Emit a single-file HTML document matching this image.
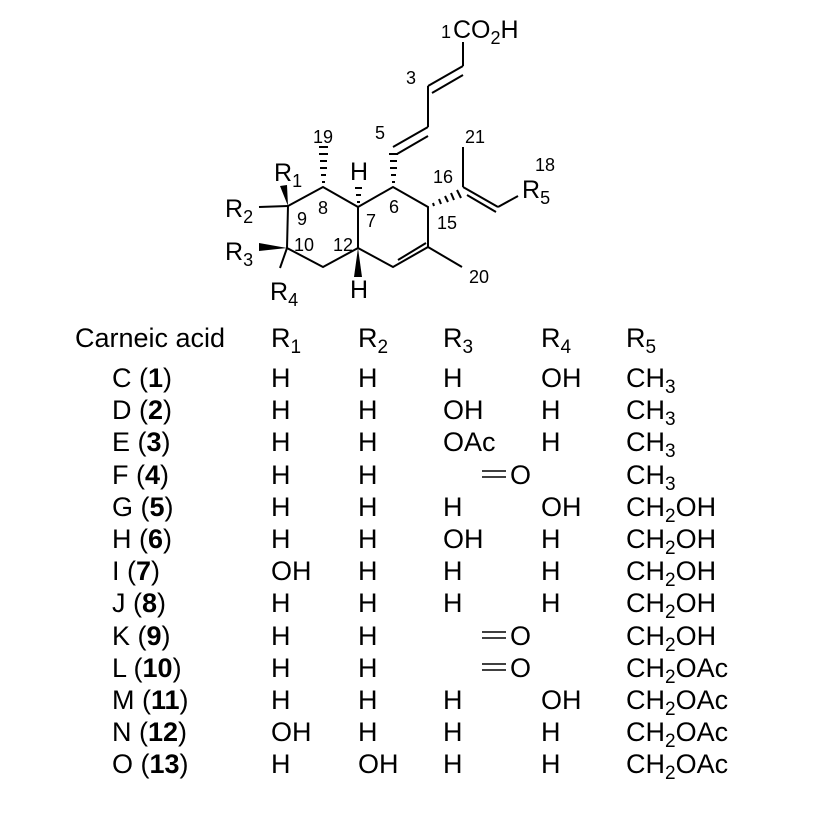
<!DOCTYPE html>
<html><head><meta charset="utf-8"><style>
html,body{margin:0;padding:0;background:#fff;}
svg{display:block;}
text{font-family:"Liberation Sans",Arial,sans-serif;fill:#000;}
.a{font-size:25px;}
.n{font-size:18px;}
.t{font-size:27px;}
.b{font-weight:bold;}
</style></head><body>
<svg width="831" height="815" viewBox="0 0 831 815" xmlns="http://www.w3.org/2000/svg">
<g stroke="#000" stroke-width="2" fill="none" stroke-linecap="butt">
<polyline points="288,206 323,187 358,207 358,248 323,267 287,248 288,206"/>
<polyline points="358,207 393,187 428,207 428,247 393,267 358,248"/>
<line x1="398" y1="260" x2="426" y2="243"/>
<line x1="428" y1="247" x2="462" y2="267"/>
<line x1="259" y1="207" x2="288" y2="206"/>
<line x1="287" y1="248" x2="280" y2="268"/>
<line x1="393" y1="147" x2="428" y2="127"/>
<line x1="397" y1="154" x2="428" y2="136"/>
<line x1="428" y1="127" x2="428" y2="86"/>
<line x1="428" y1="86" x2="463" y2="66"/>
<line x1="432" y1="93" x2="463" y2="75"/>
<line x1="463" y1="66" x2="463" y2="42"/>
<line x1="463" y1="187" x2="463" y2="147"/>
<line x1="463" y1="187" x2="498" y2="207"/>
<line x1="467" y1="195" x2="496" y2="212"/>
<line x1="498" y1="207" x2="518" y2="196"/>
</g>
<g stroke="#000" stroke-width="2">
<line x1="322" y1="182" x2="325" y2="182"/><line x1="321" y1="175" x2="326" y2="175"/><line x1="320" y1="168" x2="327" y2="168"/><line x1="320" y1="161" x2="327" y2="161"/><line x1="319" y1="154" x2="328" y2="154"/><line x1="319" y1="147" x2="328" y2="147"/>
<line x1="357" y1="202" x2="360" y2="202"/><line x1="356" y1="195" x2="361" y2="195"/><line x1="355" y1="188" x2="362" y2="188"/>
<line x1="392" y1="182" x2="395" y2="182"/><line x1="391" y1="175" x2="396" y2="175"/><line x1="390" y1="168" x2="397" y2="168"/><line x1="390" y1="161" x2="397" y2="161"/><line x1="389" y1="154" x2="398" y2="154"/>
<line x1="433" y1="203" x2="434" y2="206"/><line x1="439" y1="199" x2="441" y2="204"/><line x1="445" y1="196" x2="448" y2="202"/><line x1="451" y1="193" x2="454" y2="200"/><line x1="457" y1="190" x2="461" y2="198"/>
</g>
<g fill="#000">
<polygon points="288,206 280,186 287,185"/>
<polygon points="287,248 259,243 259,251"/>
<polygon points="358,248 354,277 362,277"/>
</g>
<text class="a" x="274" y="181">R<tspan font-size="18" dy="6">1</tspan></text>
<text class="a" x="225" y="217">R<tspan font-size="18" dy="6">2</tspan></text>
<text class="a" x="225" y="260">R<tspan font-size="18" dy="6">3</tspan></text>
<text class="a" x="270" y="300">R<tspan font-size="18" dy="6">4</tspan></text>
<text class="a" x="522" y="198">R<tspan font-size="18" dy="6">5</tspan></text>
<text class="a" x="350" y="180">H</text>
<text class="a" x="350" y="298">H</text>
<text class="a" x="453" y="38">CO<tspan font-size="18" dy="6">2</tspan><tspan dy="-6">H</tspan></text>
<text class="n" x="441" y="38">1</text>
<text class="n" x="406" y="84">3</text>
<text class="n" x="375" y="139">5</text>
<text class="n" x="313" y="143">19</text>
<text class="n" x="465" y="143">21</text>
<text class="n" x="535" y="171">18</text>
<text class="n" x="433" y="183">16</text>
<text class="n" x="389" y="213">6</text>
<text class="n" x="318" y="214">8</text>
<text class="n" x="297" y="225">9</text>
<text class="n" x="366" y="227">7</text>
<text class="n" x="437" y="229">15</text>
<text class="n" x="294" y="251">10</text>
<text class="n" x="333" y="251">12</text>
<text class="n" x="469" y="283">20</text>
<g>
<text class="t" x="75" y="347">Carneic acid</text>
<text class="t" x="271" y="347">R<tspan font-size="19" dy="6">1</tspan></text>
<text class="t" x="358" y="347">R<tspan font-size="19" dy="6">2</tspan></text>
<text class="t" x="443" y="347">R<tspan font-size="19" dy="6">3</tspan></text>
<text class="t" x="541" y="347">R<tspan font-size="19" dy="6">4</tspan></text>
<text class="t" x="626" y="347">R<tspan font-size="19" dy="6">5</tspan></text>
</g>
<g>
<text class="t" x="112" y="387">C (<tspan class="b">1</tspan>)</text>
<text class="t" x="112" y="419">D (<tspan class="b">2</tspan>)</text>
<text class="t" x="112" y="451">E (<tspan class="b">3</tspan>)</text>
<text class="t" x="112" y="484">F (<tspan class="b">4</tspan>)</text>
<text class="t" x="112" y="516">G (<tspan class="b">5</tspan>)</text>
<text class="t" x="112" y="548">H (<tspan class="b">6</tspan>)</text>
<text class="t" x="112" y="580">I (<tspan class="b">7</tspan>)</text>
<text class="t" x="112" y="612">J (<tspan class="b">8</tspan>)</text>
<text class="t" x="112" y="645">K (<tspan class="b">9</tspan>)</text>
<text class="t" x="112" y="677">L (<tspan class="b">10</tspan>)</text>
<text class="t" x="112" y="709">M (<tspan class="b">11</tspan>)</text>
<text class="t" x="112" y="741">N (<tspan class="b">12</tspan>)</text>
<text class="t" x="112" y="773">O (<tspan class="b">13</tspan>)</text>
<text class="t" x="271" y="387">H</text><text class="t" x="271" y="419">H</text><text class="t" x="271" y="451">H</text><text class="t" x="271" y="484">H</text><text class="t" x="271" y="516">H</text><text class="t" x="271" y="548">H</text><text class="t" x="271" y="580">OH</text><text class="t" x="271" y="612">H</text><text class="t" x="271" y="645">H</text><text class="t" x="271" y="677">H</text><text class="t" x="271" y="709">H</text><text class="t" x="271" y="741">OH</text><text class="t" x="271" y="773">H</text>
<text class="t" x="358" y="387">H</text><text class="t" x="358" y="419">H</text><text class="t" x="358" y="451">H</text><text class="t" x="358" y="484">H</text><text class="t" x="358" y="516">H</text><text class="t" x="358" y="548">H</text><text class="t" x="358" y="580">H</text><text class="t" x="358" y="612">H</text><text class="t" x="358" y="645">H</text><text class="t" x="358" y="677">H</text><text class="t" x="358" y="709">H</text><text class="t" x="358" y="741">H</text><text class="t" x="358" y="773">OH</text>
<text class="t" x="443" y="387">H</text><text class="t" x="443" y="419">OH</text><text class="t" x="443" y="451">OAc</text><text class="t" x="443" y="516">H</text><text class="t" x="443" y="548">OH</text><text class="t" x="443" y="580">H</text><text class="t" x="443" y="612">H</text><text class="t" x="443" y="709">H</text><text class="t" x="443" y="741">H</text><text class="t" x="443" y="773">H</text>
<text class="t" x="510" y="484">O</text><text class="t" x="510" y="645">O</text><text class="t" x="510" y="677">O</text>
<text class="t" x="541" y="387">OH</text><text class="t" x="541" y="419">H</text><text class="t" x="541" y="451">H</text><text class="t" x="541" y="516">OH</text><text class="t" x="541" y="548">H</text><text class="t" x="541" y="580">H</text><text class="t" x="541" y="612">H</text><text class="t" x="541" y="709">OH</text><text class="t" x="541" y="741">H</text><text class="t" x="541" y="773">H</text>
<text class="t" x="626" y="387">CH<tspan font-size="19" dy="6">3</tspan></text>
<text class="t" x="626" y="419">CH<tspan font-size="19" dy="6">3</tspan></text>
<text class="t" x="626" y="451">CH<tspan font-size="19" dy="6">3</tspan></text>
<text class="t" x="626" y="484">CH<tspan font-size="19" dy="6">3</tspan></text>
<text class="t" x="626" y="516">CH<tspan font-size="19" dy="6">2</tspan><tspan dy="-6">OH</tspan></text>
<text class="t" x="626" y="548">CH<tspan font-size="19" dy="6">2</tspan><tspan dy="-6">OH</tspan></text>
<text class="t" x="626" y="580">CH<tspan font-size="19" dy="6">2</tspan><tspan dy="-6">OH</tspan></text>
<text class="t" x="626" y="612">CH<tspan font-size="19" dy="6">2</tspan><tspan dy="-6">OH</tspan></text>
<text class="t" x="626" y="645">CH<tspan font-size="19" dy="6">2</tspan><tspan dy="-6">OH</tspan></text>
<text class="t" x="626" y="677">CH<tspan font-size="19" dy="6">2</tspan><tspan dy="-6">OAc</tspan></text>
<text class="t" x="626" y="709">CH<tspan font-size="19" dy="6">2</tspan><tspan dy="-6">OAc</tspan></text>
<text class="t" x="626" y="741">CH<tspan font-size="19" dy="6">2</tspan><tspan dy="-6">OAc</tspan></text>
<text class="t" x="626" y="773">CH<tspan font-size="19" dy="6">2</tspan><tspan dy="-6">OAc</tspan></text>
</g>
<g stroke="#000" stroke-width="1.6">
<line x1="482" y1="471" x2="506" y2="471"/><line x1="482" y1="477" x2="506" y2="477"/>
<line x1="482" y1="632" x2="506" y2="632"/><line x1="482" y1="638" x2="506" y2="638"/>
<line x1="482" y1="664" x2="506" y2="664"/><line x1="482" y1="670" x2="506" y2="670"/>
</g>
</svg>
</body></html>
